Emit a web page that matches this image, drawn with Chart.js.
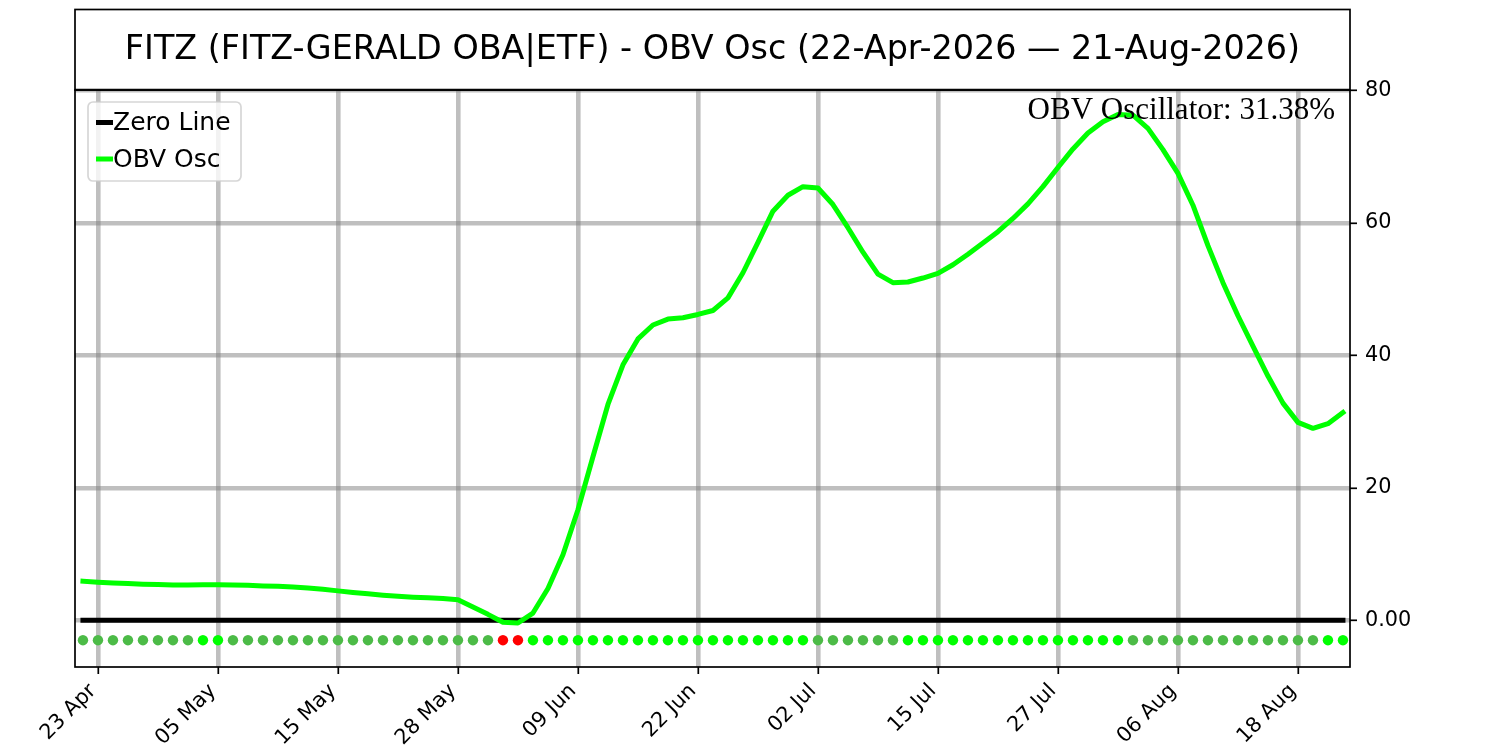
<!DOCTYPE html>
<html>
<head>
<meta charset="utf-8">
<title>FITZ - OBV Osc</title>
<script src="https://cdn.jsdelivr.net/npm/chart.js@4/dist/chart.umd.min.js"></script>
<style>
  html, body { margin: 0; padding: 0; background: #ffffff; }
  canvas { display: block; }
</style>
</head>
<body>
<canvas id="chartObv" width="1500" height="750"></canvas>
<script>
// trading days 22-Apr-2026 .. 21-Aug-2026
const dates = [
    '22 Apr','23 Apr','24 Apr','27 Apr','28 Apr','29 Apr','30 Apr','01 May','04 May','05 May',
    '06 May','07 May','08 May','11 May','12 May','13 May','14 May','15 May','18 May','19 May',
    '20 May','21 May','22 May','26 May','27 May','28 May','29 May','01 Jun','02 Jun','03 Jun',
    '04 Jun','05 Jun','08 Jun','09 Jun','10 Jun','11 Jun','12 Jun','15 Jun','16 Jun','17 Jun',
    '18 Jun','22 Jun','23 Jun','24 Jun','25 Jun','26 Jun','29 Jun','30 Jun','01 Jul','02 Jul',
    '06 Jul','07 Jul','08 Jul','09 Jul','10 Jul','13 Jul','14 Jul','15 Jul','16 Jul','17 Jul',
    '20 Jul','21 Jul','22 Jul','23 Jul','24 Jul','27 Jul','28 Jul','29 Jul','30 Jul','31 Jul',
    '03 Aug','04 Aug','05 Aug','06 Aug','07 Aug','10 Aug','11 Aug','12 Aug','13 Aug','14 Aug',
    '17 Aug','18 Aug','19 Aug','20 Aug','21 Aug'
]

const obvOsc = [
    5.9, 5.75, 5.65, 5.55, 5.45, 5.4, 5.35, 5.33, 5.36, 5.38,
    5.35, 5.3, 5.2, 5.15, 5.05, 4.9, 4.7, 4.45, 4.2, 4.0,
    3.8, 3.65, 3.5, 3.4, 3.3, 3.1, 2.0, 0.9, -0.3, -0.4,
    1.1, 4.8, 9.9, 16.7, 24.7, 32.6, 38.6, 42.5, 44.6, 45.5,
    45.7, 46.2, 46.8, 48.7, 52.5, 57.1, 61.8, 64.2, 65.5, 65.3,
    62.8, 59.3, 55.6, 52.3, 51.0, 51.1, 51.7, 52.4, 53.7, 55.3,
    57.0, 58.7, 60.7, 62.9, 65.5, 68.4, 71.2, 73.6, 75.3, 76.4,
    76.3, 74.3, 71.1, 67.5, 62.7, 56.6, 51.0, 46.0, 41.4, 36.9,
    32.8, 29.9, 29.0, 29.7, 31.38
]

// 0 = falling, 1 = rising, 2 = below zero
const dotState = [
    0,0,0,0,0,0,0,0,1,1,
    0,0,0,0,0,0,0,0,0,0,
    0,0,0,0,0,0,0,0,2,2,
    1,1,1,1,1,1,1,1,1,1,
    1,1,1,1,1,1,1,1,1,0,
    0,0,0,0,0,1,1,1,1,1,
    1,1,1,1,1,1,1,1,1,1,
    0,0,0,0,0,0,0,0,0,0,
    0,0,0,1,1
]

const xTickIdx = [1, 9, 17, 25, 33, 41, 49, 57, 65, 73, 81]
const yTicks = [0, 20, 40, 60, 80]
const dotLevel = -3

const dotColors = ['#4cbb47', '#00ff00', '#ff0000']
const titleText = 'FITZ (FITZ-GERALD OBA|ETF) - OBV Osc (22-Apr-2026 \u2014 21-Aug-2026)'

// title box, legend box, frame and label
const decorPlugin = {
    id: 'decor',
    afterDraw(chart) {
        const ctx = chart.ctx
        const area = chart.chartArea
        ctx.save()

        // title box
        ctx.strokeStyle = '#000'
        ctx.lineWidth = 1.7
        ctx.strokeRect(area.left, 9.5, area.right - area.left, area.top - 9.5)
        ctx.fillStyle = '#000'
        ctx.font = '33.4px "DejaVu Sans"'
        ctx.textAlign = 'center'
        ctx.textBaseline = 'middle'
        ctx.fillText(titleText, (area.left + area.right) / 2, 50)

        // frame
        ctx.strokeRect(area.left, area.top, area.right - area.left, area.bottom - area.top)

        // legend
        const lx = 88, ly = 102, lw = 153, lh = 79, r = 5
        ctx.beginPath()
        ctx.moveTo(lx + r, ly)
        ctx.arcTo(lx + lw, ly, lx + lw, ly + lh, r)
        ctx.arcTo(lx + lw, ly + lh, lx, ly + lh, r)
        ctx.arcTo(lx, ly + lh, lx, ly, r)
        ctx.arcTo(lx, ly, lx + lw, ly, r)
        ctx.closePath()
        ctx.fillStyle = 'rgba(255,255,255,0.8)'
        ctx.fill()
        ctx.strokeStyle = 'rgba(204,204,204,0.8)'
        ctx.lineWidth = 1.7
        ctx.stroke()

        const items = chart.data.datasets.filter(d => d.legend)
        ctx.font = '25px "DejaVu Sans"'
        ctx.textAlign = 'left'
        ctx.textBaseline = 'middle'
        items.forEach((d, i) => {
            const yy = 122.5 + i * 36.5
            ctx.strokeStyle = d.borderColor
            ctx.lineWidth = 5
            ctx.beginPath()
            ctx.moveTo(96, yy)
            ctx.lineTo(113, yy)
            ctx.stroke()
            ctx.fillStyle = '#000'
            ctx.fillText(d.label, 113, yy + 1)
        })

        // last value text
        ctx.font = '31px "Liberation Serif"'
        ctx.textAlign = 'right'
        ctx.textBaseline = 'alphabetic'
        ctx.fillStyle = '#000'
        const last = obvOsc[obvOsc.length - 1]
        ctx.fillText('OBV Oscillator: ' + last.toFixed(2) + '%', 1335, 119)
        ctx.restore()
    }
}

function renderChart() {
    const ctx = document.querySelector('#chartObv').getContext('2d')
    const n = obvOsc.length
    const chart = new Chart(ctx, {
        type: 'line',
        data: {
            datasets: [
                {
                    label: 'Zero Line',
                    legend: true,
                    data: [{x: 0, y: 0}, {x: n - 1, y: 0}],
                    borderColor: '#000000',
                    borderWidth: 5,
                    borderCapStyle: 'square',
                    pointRadius: 0,
                    order: 3
                },
                {
                    label: 'OBV Osc',
                    legend: true,
                    data: obvOsc.map((v, i) => ({x: i, y: v})),
                    borderColor: '#00ff00',
                    borderWidth: 5,
                    borderCapStyle: 'square',
                    borderJoinStyle: 'round',
                    pointRadius: 0,
                    tension: 0,
                    order: 2
                },
                {
                    label: 'state',
                    type: 'scatter',
                    data: dotState.map((s, i) => ({x: i, y: dotLevel})),
                    showLine: false,
                    pointRadius: 5.2,
                    pointBorderWidth: 0,
                    pointBackgroundColor: dotState.map(s => dotColors[s]),
                    order: 1
                }
            ]
        },
        options: {
            responsive: false,
            devicePixelRatio: 1,
            animation: false,
            events: [],
            layout: { padding: { left: 75, top: 90, right: 0, bottom: 0 } },
            plugins: {
                legend: { display: false },
                tooltip: { enabled: false },
                title: { display: false }
            },
            scales: {
                x: {
                    type: 'linear',
                    min: -0.53,
                    max: 84.47,
                    afterBuildTicks: s => { s.ticks = xTickIdx.map(v => ({value: v})) },
                    afterFit: s => { s.height = 83 },
                    border: { display: false },
                    grid: {
                        color: 'rgba(128,128,128,0.5)',
                        lineWidth: 4.6,
                        tickColor: '#000',
                        tickWidth: 1.7,
                        tickLength: 7
                    },
                    ticks: {
                        autoSkip: false,
                        minRotation: 45,
                        maxRotation: 45,
                        padding: 5,
                        labelOffset: -5,
                        color: '#000',
                        font: { family: 'DejaVu Sans', size: 20.8 },
                        callback: v => dates[v]
                    }
                },
                y: {
                    position: 'right',
                    min: -7.05,
                    max: 80.1,
                    afterBuildTicks: s => { s.ticks = yTicks.map(v => ({value: v})) },
                    afterFit: s => { s.width = 150 },
                    border: { display: false },
                    grid: {
                        color: 'rgba(128,128,128,0.5)',
                        lineWidth: 4.6,
                        tickColor: '#000',
                        tickWidth: 1.7,
                        tickLength: 7
                    },
                    ticks: {
                        padding: 8,
                        color: '#000',
                        font: { family: 'DejaVu Sans', size: 20.8 },
                        callback: v => v === 0 ? '0.00' : String(v)
                    }
                }
            }
        },
        plugins: [decorPlugin]
    })
}
renderChart()
</script>
</body>
</html>
